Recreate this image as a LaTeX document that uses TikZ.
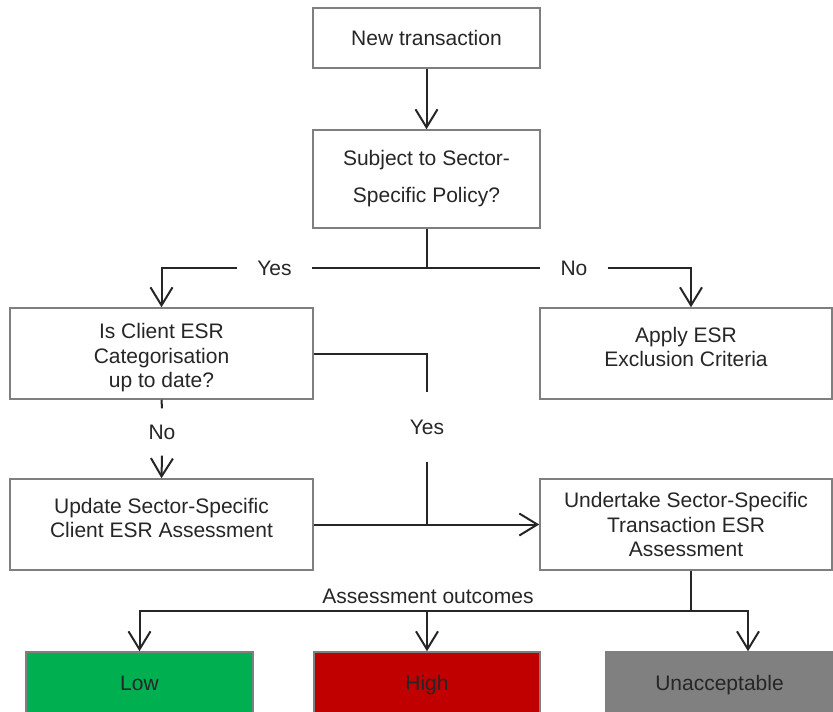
\documentclass[tikz,border=0pt]{standalone}
\usepackage{fontspec}
\setmainfont{Liberation Sans}
\usetikzlibrary{arrows.meta,calc}
\definecolor{txt}{HTML}{262626}
\definecolor{bord}{HTML}{7F7F7F}
\definecolor{lowc}{HTML}{00B050}
\definecolor{highc}{HTML}{C00000}
\definecolor{unc}{HTML}{808080}
\begin{document}
\begin{tikzpicture}[x=1pt,y=-1pt,
 box/.style={draw=bord,line width=1.5pt,fill=white,inner sep=0pt,align=center,text=txt,font=\fontsize{21}{24.5}\selectfont},
 outbox/.style={box,minimum height=66pt,text height=15pt,text depth=4.5pt},
 lbl/.style={text=txt,font=\fontsize{21}{24.5}\selectfont,inner sep=0pt},
 conn/.style={draw=txt,line width=2pt},
 arr/.style={conn,-{Straight Barb[length=18pt,width=22pt]}},
]
\path[use as bounding box] (0,0) rectangle (833,712);
\clip (0,0) rectangle (833,712);
% boxes
\node[box,minimum width=227pt,minimum height=60pt] (nt) at (426.5,38) {New transaction};
\node[box,minimum width=227pt,minimum height=98pt,font=\fontsize{21}{37}\selectfont] (sp) at (426.5,179) {Subject to Sector-\\Specific Policy?};
\node[box,minimum width=303pt,minimum height=91pt] (ic) at (161.5,353.5) {};
\node[lbl,align=center] (icT) at (161.5,358) {Is Client ESR\\Categorisation\\up to date?};
\node[box,minimum width=292pt,minimum height=91pt] (ae) at (686,353.5) {};
\node[lbl,align=center] (aeT) at (686,347) {Apply ESR\\Exclusion Criteria};
\node[box,minimum width=303pt,minimum height=91pt] (us) at (161.5,524.5) {};
\node[lbl,align=center] (usT) at (161.5,518) {Update Sector-Specific\\Client ESR Assessment};
\node[box,minimum width=292pt,minimum height=91pt] (ut) at (686,524.5) {Undertake Sector-Specific\\Transaction ESR\\Assessment};
\node[outbox,fill=lowc,minimum width=227pt] (low) at (139.5,685) {Low};
\node[outbox,fill=highc,minimum width=226pt] (high) at (427,685) {High};
\node[outbox,fill=unc,minimum width=227pt] (un) at (719.5,685) {Unacceptable};
% labels
\node[lbl,inner xsep=20pt] (y1) at (274.5,268) {Yes};
\node[lbl,inner xsep=20pt] (n1) at (574,268) {No};
\node[lbl,minimum height=70pt] (y2) at (427,427) {Yes};
\node[lbl,minimum height=47pt] (n2) at (162,432) {No};
\node[lbl] (ao) at (428,596) {Assessment outcomes};
% connectors
\draw[arr] (nt.south) -- (sp.north);
\coordinate (j1) at (426.5,268);
\draw[conn] (sp.south) -- (j1) -- (y1.east);
\draw[arr] (y1.west) -| (ic.north);
\draw[conn] (j1) -- (n1.west);
\draw[arr] (n1.east) -| ([xshift=5pt]ae.north);
\draw[conn] (ic.east) -| (y2.north);
\coordinate (j2) at (427,524.5);
\draw[conn] (y2.south) -- (j2);
\draw[arr] (us.east) -- (ut.west);
\draw[conn] (ic.south) -- (n2.north);
\draw[arr] (n2.south) -- (us.north);
\coordinate (j3) at (691,611);
\draw[conn] ([xshift=5pt]ut.south) -- (j3);
\draw[arr] (j3) -| (low.north);
\draw[arr] (j3) -| ([xshift=28.5pt]un.north);
\draw[arr] (high.north |- j3) -- (high.north);
\end{tikzpicture}
\end{document}
